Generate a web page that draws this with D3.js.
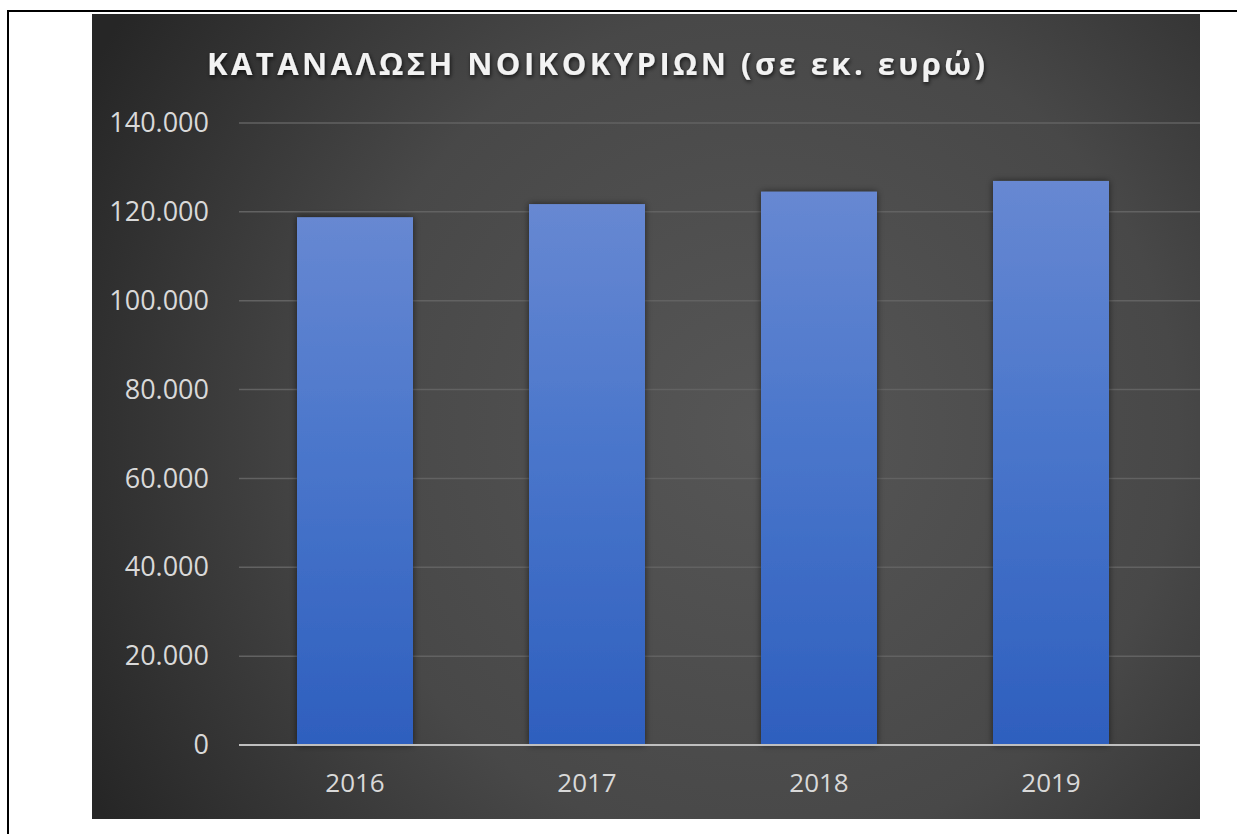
<!DOCTYPE html>
<html>
<head>
<meta charset="utf-8">
<script src="https://cdn.jsdelivr.net/npm/d3@7"></script>
<style>
  html, body { margin: 0; padding: 0; background: #ffffff; }
  svg { display: block; }
</style>
</head>
<body>
<svg id="chart" width="1237" height="834"></svg>
<script>
// Household consumption, million euros
const years = ["2016", "2017", "2018", "2019"];
const consumption = [118800, 121750, 124550, 126950];
const yTicks = [0, 20000, 40000, 60000, 80000, 100000, 120000, 140000];
const titleText = "ΚΑΤΑΝΑΛΩΣΗ ΝΟΙΚΟΚΥΡΙΩΝ (σε εκ. ευρώ)";

const svg = d3.select("#chart");
const defs = svg.append("defs");

// chart panel frame
const panel = { x0: 92, y0: 14, x1: 1200, y1: 819 };
const plot = { left: 239, right: 1167, top: 123, bottom: 745 };

// dark radial background
const bg = defs.append("radialGradient")
  .attr("id", "bgGrad")
  .attr("gradientUnits", "userSpaceOnUse")
  .attr("cx", 760).attr("cy", 430).attr("r", 760);
bg.append("stop").attr("offset", "0%").attr("stop-color", "#565656");
bg.append("stop").attr("offset", "55%").attr("stop-color", "#484848");
bg.append("stop").attr("offset", "100%").attr("stop-color", "#262626");

// bar fill: lighter at the top, deeper blue at the base
const barGrad = defs.append("linearGradient")
  .attr("id", "barGrad")
  .attr("x1", 0).attr("y1", 0).attr("x2", 0).attr("y2", 1);
barGrad.append("stop").attr("offset", "0%").attr("stop-color", "#6788d2");
barGrad.append("stop").attr("offset", "45%").attr("stop-color", "#4a76cb");
barGrad.append("stop").attr("offset", "100%").attr("stop-color", "#2e5fbe");

const shadow = defs.append("filter").attr("id", "barShadow")
  .attr("x", "-20%").attr("y", "-10%").attr("width", "140%").attr("height", "120%");
shadow.append("feDropShadow")
  .attr("dx", 0).attr("dy", 0).attr("stdDeviation", 3.5)
  .attr("flood-color", "#000").attr("flood-opacity", 0.55);

const tShadow = defs.append("filter").attr("id", "titleShadow")
  .attr("x", "-5%").attr("y", "-30%").attr("width", "110%").attr("height", "160%");
tShadow.append("feDropShadow")
  .attr("dx", 1).attr("dy", 2).attr("stdDeviation", 2)
  .attr("flood-color", "#000").attr("flood-opacity", 0.7);

// outer page rule lines
svg.append("line").attr("x1", 7).attr("x2", 1237).attr("y1", 11).attr("y2", 11)
  .attr("stroke", "#000").attr("stroke-width", 2);
svg.append("line").attr("x1", 8).attr("x2", 8).attr("y1", 10).attr("y2", 834)
  .attr("stroke", "#000").attr("stroke-width", 2);

svg.append("rect")
  .attr("x", panel.x0).attr("y", panel.y0)
  .attr("width", panel.x1 - panel.x0).attr("height", panel.y1 - panel.y0)
  .attr("fill", "url(#bgGrad)");

const x = d3.scaleBand()
  .domain(years)
  .range([plot.left, plot.right])
  .paddingInner(0.5)
  .paddingOuter(0.25);

const y = d3.scaleLinear()
  .domain([0, 140000])
  .range([plot.bottom, plot.top]);

const locale = d3.formatLocale({ decimal: ",", thousands: ".", grouping: [3], currency: ["", "€"] });
const fmt = locale.format(",");

const font = "'Open Sans', 'DejaVu Sans', sans-serif";

// horizontal gridlines
svg.append("g")
  .selectAll("line")
  .data(yTicks.filter(d => d > 0))
  .join("line")
  .attr("x1", plot.left).attr("x2", panel.x1)
  .attr("y1", d => y(d)).attr("y2", d => y(d))
  .attr("stroke", "#626262").attr("stroke-width", 1.5);

// y axis labels
const yAxis = svg.append("g")
  .attr("transform", `translate(${plot.left - 12},0)`)
  .call(d3.axisLeft(y).tickValues(yTicks).tickFormat(fmt).tickSize(0).tickPadding(18));
yAxis.select(".domain").remove();
yAxis.selectAll("text")
  .attr("fill", "#d9d9d9")
  .style("font-family", font)
  .style("font-size", "27px");

// bars
svg.append("g")
  .selectAll("rect")
  .data(years.map((yr, i) => ({ yr, v: consumption[i] })))
  .join("rect")
  .attr("x", d => x(d.yr))
  .attr("width", x.bandwidth())
  .attr("y", d => y(d.v))
  .attr("height", d => y(0) - y(d.v))
  .attr("fill", "url(#barGrad)")
  .attr("filter", "url(#barShadow)");

// baseline
svg.append("line")
  .attr("x1", plot.left).attr("x2", panel.x1)
  .attr("y1", y(0)).attr("y2", y(0))
  .attr("stroke", "#bfbfbf").attr("stroke-width", 2);

// x axis labels
const xAxis = svg.append("g")
  .attr("transform", `translate(0,${y(0)})`)
  .call(d3.axisBottom(x).tickSize(0).tickPadding(29));
xAxis.select(".domain").remove();
xAxis.selectAll("text")
  .attr("fill", "#d9d9d9")
  .style("font-family", font)
  .style("font-size", "26px");

// title, spaced out to span its line
const title = svg.append("text")
  .attr("x", 207).attr("y", 75)
  .attr("fill", "#f2f2f2")
  .attr("filter", "url(#titleShadow)")
  .style("font-family", font)
  .style("font-weight", "bold")
  .style("font-size", "31px")
  .text(titleText);
const targetWidth = 778;
const natural = title.node().getComputedTextLength();
const spacing = Math.max(0, (targetWidth - natural) / (titleText.length - 1));
title.style("letter-spacing", spacing + "px");
</script>
</body>
</html>
